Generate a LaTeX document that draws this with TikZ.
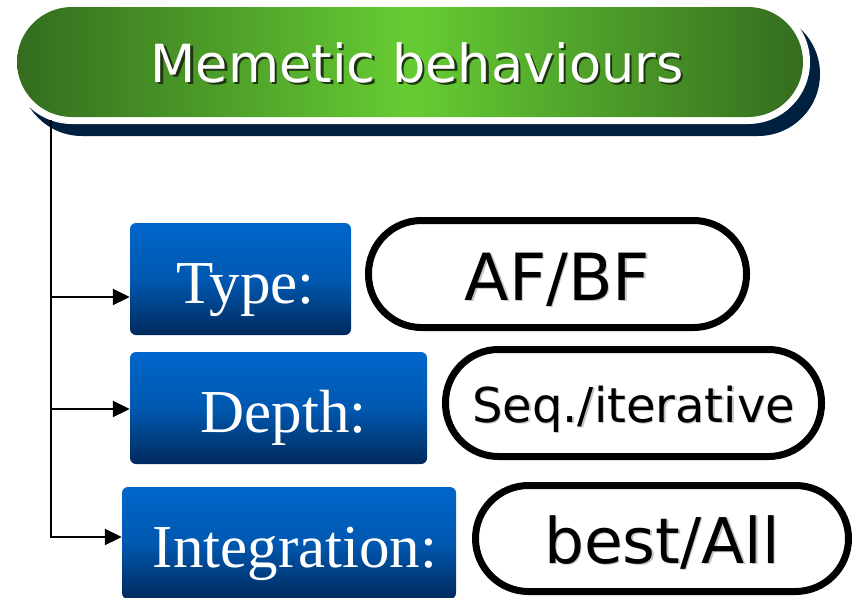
\documentclass[tikz,border=0pt]{standalone}
\usepackage{fontspec}
\usepackage{graphicx}
\setmainfont{Liberation Serif}
\newfontfamily\verd{DejaVu Sans}
\usetikzlibrary{arrows.meta,shadows}
\definecolor{gdark}{HTML}{336B1E}
\definecolor{glight}{HTML}{66CC33}
\definecolor{navyshadow}{HTML}{00203F}
\definecolor{btop}{HTML}{0066CC}
\definecolor{bmid}{HTML}{0058B0}
\definecolor{bbot}{HTML}{002A5C}
\definecolor{tshadow}{HTML}{1C3510}
\definecolor{pshadow}{HTML}{C4C4C4}
\newcommand{\shadowed}[3]{\makebox[0pt][l]{\hspace{#3}\raisebox{-#3}{\color{#1}#2}}#2}
\begin{document}
\begin{tikzpicture}[x=1pt,y=-1pt,
  banner/.style={rectangle, fill=white, rounded corners=62pt, inner sep=0pt,
    minimum width=800pt, minimum height=124pt,
    drop shadow={shadow xshift=10pt, shadow yshift=-12pt, fill=navyshadow, opacity=1},
    path picture={\shade[rounded corners=55pt, left color=gdark, right color=gdark, middle color=glight]
      ([xshift=7pt,yshift=-7pt]path picture bounding box.north west) rectangle
      ([xshift=-7pt,yshift=7pt]path picture bounding box.south east);},
    text=white, font=\verd\fontsize{52.5}{52.5}\selectfont},
  bluebox/.style={rectangle, rounded corners=6pt, top color=btop, bottom color=bbot, middle color=bmid,
    inner sep=0pt, minimum height=112pt, text=white, font=\fontsize{61}{61}\selectfont},
  pill/.style={rectangle, draw=black, line width=7pt, fill=white, inner sep=0pt,
    minimum height=107pt, rounded corners=53pt},
  conn/.style={line width=2pt, -{Triangle[length=17pt,width=16pt]}}]
\path[use as bounding box, clip] (0,0) rectangle (859,597);

\node[banner] (title) at (410,62)
  {\raisebox{-20pt}[0pt][0pt]{\hspace*{14pt}\shadowed{tshadow}{Memetic behaviours}{2.5pt}}};

\node[bluebox, minimum width=221pt] (type) at (240.5,279) {\raisebox{-24.5pt}[0pt][0pt]{\hspace*{10pt}Type:}};
\node[bluebox, minimum width=297pt] (depth) at (278.5,408) {\raisebox{-24.5pt}[0pt][0pt]{\hspace*{10pt}Depth:}};
\node[bluebox, minimum width=334pt] (integ) at (289,543) {\raisebox{-24.5pt}[0pt][0pt]{\hspace*{12pt}Integration:}};

\node[pill, minimum width=378pt, font=\verd\fontsize{65}{65}\selectfont] (afbf) at (557.5,274)
  {\raisebox{-26pt}[0pt][0pt]{\shadowed{pshadow}{AF/BF}{1.5pt}}};
\node[pill, minimum width=376pt, font=\verd\fontsize{48}{48}\selectfont] (seq) at (633.5,403)
  {\raisebox{-19pt}[0pt][0pt]{\shadowed{pshadow}{Seq./iterative}{1.5pt}}};
\node[pill, minimum width=373pt, minimum height=106pt, font=\verd\fontsize{63}{63}\selectfont] (best) at (662,538.5)
  {\raisebox{-24.5pt}[0pt][0pt]{\shadowed{pshadow}{best/All}{1.5pt}}};

\coordinate (top) at (51,120);
\coordinate (e1) at (type.west |- 0,297);
\coordinate (e2) at (depth.west |- 0,409);
\coordinate (e3) at (integ.west |- 0,537);
\draw[conn] (top) |- (e3);
\draw[conn] (top |- e1) -- (e1);
\draw[conn] (top |- e2) -- (e2);
\end{tikzpicture}
\end{document}
